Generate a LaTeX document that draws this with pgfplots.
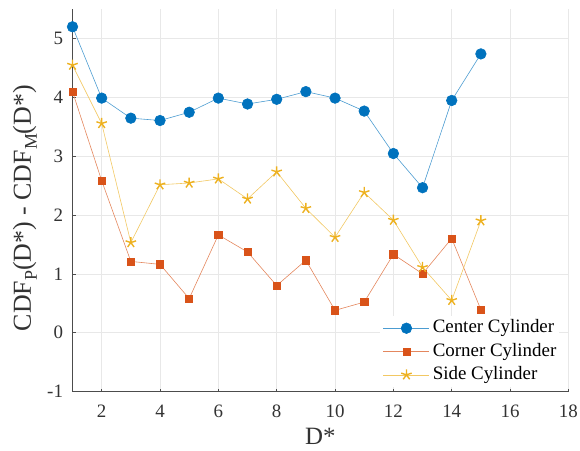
\documentclass[border=0pt]{standalone}
\usepackage{fontspec}
\setmainfont{Liberation Serif}
\usepackage{pgfplots}
\pgfplotsset{compat=1.18}
\definecolor{mblue}{RGB}{0,114,189}
\definecolor{morange}{RGB}{217,83,25}
\definecolor{myellow}{RGB}{237,177,32}
\newcommand{\sub}[1]{\raisebox{-6bp}{\fontsize{18}{18}\selectfont #1}}
\begin{document}
\fontsize{19}{22}\selectfont
\begin{tikzpicture}
\begin{axis}[
  scale only axis,
  width=495.9bp, height=383.2bp,
  xmin=1, xmax=18, ymin=-1, ymax=5.5,
  xtick={2,4,...,18}, ytick={-1,0,...,5},
  axis lines=left,
  axis line style={-, black!70, line width=0.6pt},
  grid=major,
  major grid style={gray!18, line width=0.5pt},
  tick align=inside,
  major tick length=3bp,
  tick style={black!70, line width=0.5pt},
  /pgf/number format/assume math mode=true,
  ticklabel style={font=\fontsize{19}{22}\selectfont, text=black!80},
  xticklabel style={yshift=-7bp},
  yticklabel style={xshift=-3bp},
  xlabel={D*},
  ylabel={CDF\sub{P}(D*) - CDF\sub{M}(D*)},
  xlabel style={font=\fontsize{25}{28}\selectfont, text=black!80, inner sep=0pt,
    at={(axis description cs:0.5,0)}, anchor=north, yshift=-36.6bp},
  ylabel style={font=\fontsize{26}{29}\selectfont, text=black!80, inner sep=0pt,
    at={(axis description cs:-0.0837,0.479)}, anchor=base},
  legend style={at={(0.62,0.1975)}, anchor=north west, draw=none, fill=white,
    font=\fontsize{19}{22}\selectfont, inner sep=3bp, row sep=5.3bp, column sep=3bp,
    nodes={inner sep=0pt, text height=13.5bp, text depth=4.5bp}},
  legend cell align=left,
  legend image code/.code={\draw[#1] (0bp,0bp) -- (46bp,0bp); \draw[#1, only marks] plot coordinates {(23bp,0bp)};},
]
\addplot[color=mblue!70, line width=0.6pt, mark=*, mark size=5.3bp, mark options={fill=mblue, draw=mblue}] coordinates {
(1,5.19) (2,3.98) (3,3.64) (4,3.60) (5,3.74) (6,3.98) (7,3.88) (8,3.96) (9,4.09) (10,3.98) (11,3.76) (12,3.04) (13,2.46) (14,3.94) (15,4.73)};
\addlegendentry{Center Cylinder}
\addplot[color=morange!70, line width=0.6pt, mark=square*, mark size=3.6bp, mark options={fill=morange, draw=morange}] coordinates {
(1,4.09) (2,2.58) (3,1.21) (4,1.16) (5,0.58) (6,1.66) (7,1.37) (8,0.80) (9,1.23) (10,0.38) (11,0.52) (12,1.33) (13,1.00) (14,1.60) (15,0.39)};
\addlegendentry{Corner Cylinder}
\addplot[color=myellow!70, line width=0.6pt, mark=star, mark size=5.5bp, mark options={fill=myellow, draw=myellow, line width=1.4pt}] coordinates {
(1,4.54) (2,3.55) (3,1.53) (4,2.51) (5,2.54) (6,2.61) (7,2.27) (8,2.73) (9,2.11) (10,1.62) (11,2.38) (12,1.91) (13,1.11) (14,0.55) (15,1.90)};
\addlegendentry{Side Cylinder}
\end{axis}
\pgfresetboundingbox
\path[use as bounding box] (-72.5bp,-59.3bp) rectangle (507.5bp,391.7bp);
\end{tikzpicture}
\end{document}
